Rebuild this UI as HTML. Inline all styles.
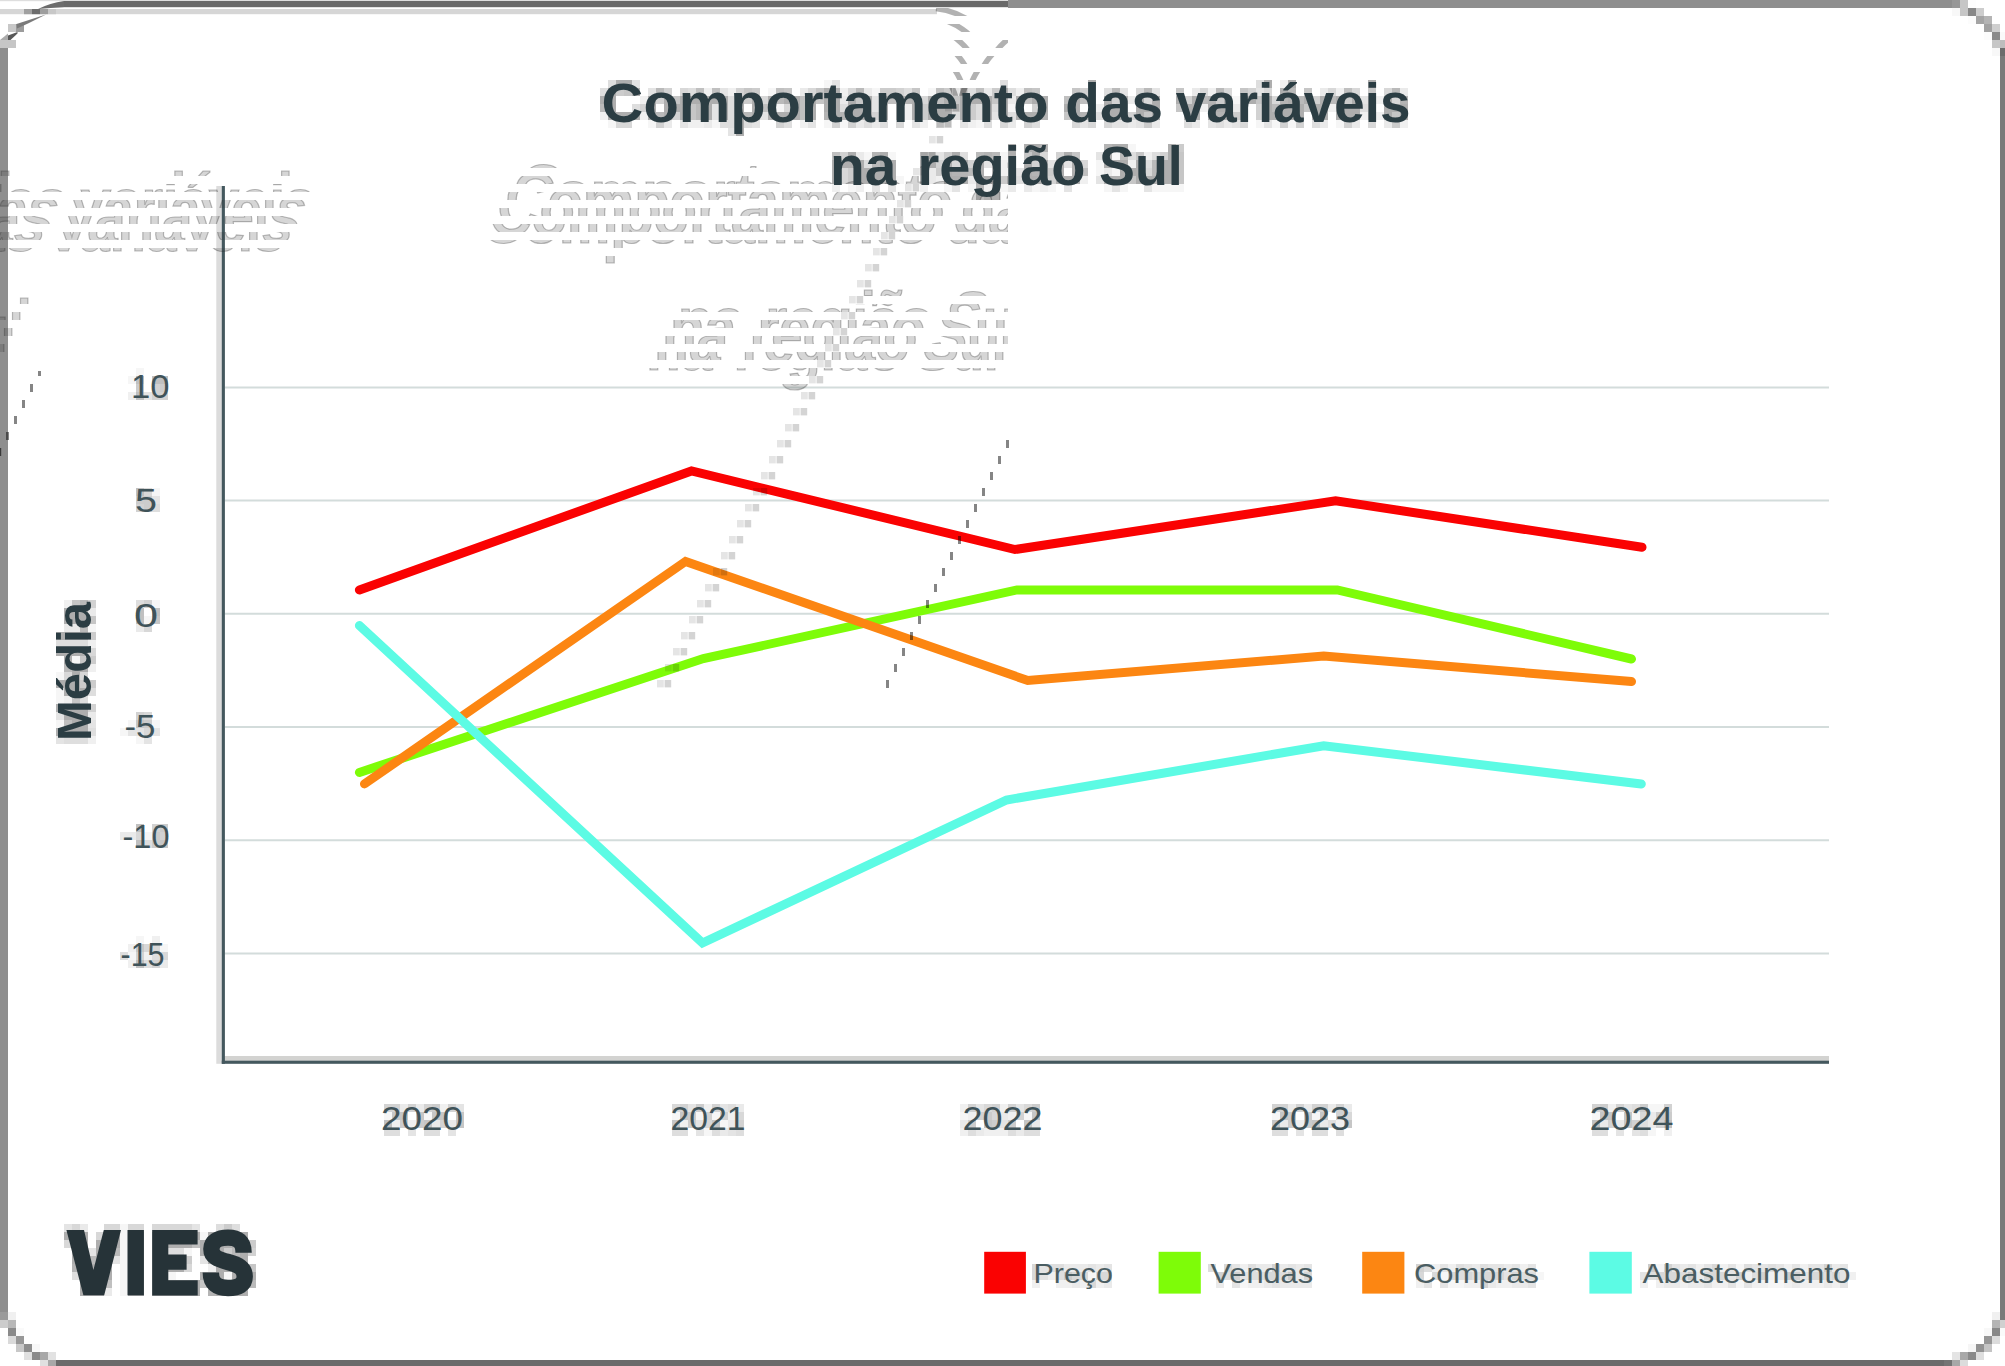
<!DOCTYPE html>
<html lang="pt">
<head>
<meta charset="utf-8">
<title>Comportamento das variáveis na região Sul</title>
<style>
  html, body { margin: 0; padding: 0; background: #ffffff; }
  body { width: 2005px; height: 1366px; overflow: hidden; position: relative;
         font-family: "Liberation Sans", sans-serif; }
  svg { position: absolute; left: 0; top: 0; display: block; }
  text { font-family: "Liberation Sans", sans-serif; }
  .tick { font-size: 33px; fill: #3f5359; }
  .leg  { font-size: 28px; fill: #4a5d62; }
  .ttl  { font-size: 56px; font-weight: bold; }
  .ghost { fill: rgba(50,50,50,0.20); stroke: rgba(40,40,40,0.30); stroke-width: 1.2px; }
</style>
</head>
<body>
<svg width="2005" height="1366" viewBox="0 0 2005 1366">
  <defs>
    <g id="ttlsrc" class="ttl">
      <text x="601.6" y="121.5" textLength="446.9" lengthAdjust="spacingAndGlyphs">Comportamento</text>
      <text x="1065.3" y="121.5" textLength="97.6" lengthAdjust="spacingAndGlyphs">das</text>
      <text x="1175.8" y="121.5" textLength="234.6" lengthAdjust="spacingAndGlyphs">variáveis</text>
      <text x="830" y="184.5" textLength="66.4" lengthAdjust="spacingAndGlyphs">na</text>
      <text x="917.5" y="184.5" textLength="168" lengthAdjust="spacingAndGlyphs">região</text>
      <text x="1099" y="184.5" textLength="83.7" lengthAdjust="spacingAndGlyphs">Sul</text>
    </g>
    <g id="arcsrc" fill="none">
      <path d="M1944 2.5 C1960 4.5 1971 9 1982 18 S2000 38 2004 52"/>
      <path d="M61 2.5 C45 4.5 34 9 23 18 S5 38 1 52"/>
    </g>
    <clipPath id="ce10"><rect x="0" y="160" width="1008" height="8"/></clipPath>
    <clipPath id="ce11"><rect x="0" y="176" width="1008" height="8"/></clipPath>
    <clipPath id="ce12"><rect x="0" y="192" width="1008" height="8"/></clipPath>
    <clipPath id="ce13"><rect x="0" y="208" width="1008" height="8"/></clipPath>
    <clipPath id="ce14"><rect x="0" y="224" width="1008" height="8"/></clipPath>
    <clipPath id="ce15"><rect x="0" y="240" width="1008" height="8"/></clipPath>
    <clipPath id="ce16"><rect x="0" y="256" width="1008" height="8"/></clipPath>
    <clipPath id="ce18"><rect x="0" y="288" width="1008" height="8"/></clipPath>
    <clipPath id="ce19"><rect x="0" y="304" width="1008" height="8"/></clipPath>
    <clipPath id="ce20"><rect x="0" y="320" width="1008" height="8"/></clipPath>
    <clipPath id="ce21"><rect x="0" y="336" width="1008" height="8"/></clipPath>
    <clipPath id="ce22"><rect x="0" y="352" width="1008" height="8"/></clipPath>
    <clipPath id="ce23"><rect x="0" y="368" width="1008" height="8"/></clipPath>
    <clipPath id="ce24"><rect x="0" y="384" width="1008" height="8"/></clipPath>
    <clipPath id="co9"><rect x="0" y="152" width="1008" height="8"/></clipPath>
    <clipPath id="co10"><rect x="0" y="168" width="1008" height="8"/></clipPath>
    <clipPath id="co11"><rect x="0" y="184" width="1008" height="8"/></clipPath>
    <clipPath id="co12"><rect x="0" y="200" width="1008" height="8"/></clipPath>
    <clipPath id="co13"><rect x="0" y="216" width="1008" height="8"/></clipPath>
    <clipPath id="co14"><rect x="0" y="232" width="1008" height="8"/></clipPath>
    <clipPath id="co15"><rect x="0" y="248" width="1008" height="8"/></clipPath>
    <clipPath id="co16"><rect x="0" y="264" width="1008" height="8"/></clipPath>
    <clipPath id="co17"><rect x="0" y="280" width="1008" height="8"/></clipPath>
    <clipPath id="co18"><rect x="0" y="296" width="1008" height="8"/></clipPath>
    <clipPath id="co19"><rect x="0" y="312" width="1008" height="8"/></clipPath>
    <clipPath id="co20"><rect x="0" y="328" width="1008" height="8"/></clipPath>
    <clipPath id="co21"><rect x="0" y="344" width="1008" height="8"/></clipPath>
    <clipPath id="co22"><rect x="0" y="360" width="1008" height="8"/></clipPath>
    <clipPath id="co23"><rect x="0" y="376" width="1008" height="8"/></clipPath>
    <clipPath id="co24"><rect x="0" y="392" width="1008" height="8"/></clipPath>
    <clipPath id="ao0"><rect x="0" y="8" width="1008" height="8"/></clipPath>
    <clipPath id="ao1"><rect x="0" y="24" width="1008" height="8"/></clipPath>
    <clipPath id="ao2"><rect x="0" y="40" width="1008" height="8"/></clipPath>
    <clipPath id="ao3"><rect x="0" y="56" width="1008" height="8"/></clipPath>
    <clipPath id="ao4"><rect x="0" y="72" width="1008" height="8"/></clipPath>
    <clipPath id="ao5"><rect x="0" y="88" width="1008" height="8"/></clipPath>
    <clipPath id="ao6"><rect x="0" y="104" width="1008" height="8"/></clipPath>
    <clipPath id="aw1"><rect x="0" y="24" width="1008" height="8"/></clipPath>
    <clipPath id="aw2"><rect x="0" y="40" width="1008" height="8"/></clipPath>
    <clipPath id="aw3"><rect x="0" y="56" width="1008" height="8"/></clipPath>
    <clipPath id="aw4"><rect x="0" y="72" width="1008" height="8"/></clipPath>
    <clipPath id="aw5"><rect x="0" y="88" width="1008" height="8"/></clipPath>
  </defs>
  <rect x="0" y="0" width="2005" height="1366" fill="#ffffff"/>

  <!-- FRAME -->
  <g id="frame">
    <rect x="1008" y="0" width="944" height="8" fill="#8e8e8e"/>
    <rect x="0" y="0" width="1008" height="1.2" fill="#dedede"/>
    <rect x="64" y="1" width="944" height="6.2" fill="#696969"/>
    <path d="M64 1 V7.2 Q50 8 38 9 Q50 3 64 1 Z" fill="#6c6c6c"/>
    <rect x="0" y="9" width="937" height="5.2" fill="#d6d6d6"/>
    <rect x="24" y="9" width="8" height="5.2" fill="#a0a0a0"/>
    <rect x="32" y="9" width="8" height="5.2" fill="#6c6c6c"/>
    <rect x="40" y="9" width="8" height="5.2" fill="#9e9e9e"/>
    <rect x="48" y="9" width="8" height="5.2" fill="#c8c8c8"/>
    <rect x="0" y="48" width="8" height="1264" fill="#8e8e8e"/>
    <rect x="0" y="40" width="16" height="8" fill="#c6c6c6"/>
    <rect x="8" y="24" width="8" height="8" fill="#c8c8c8"/>
    <rect x="16" y="24" width="8" height="8" fill="#9c9c9c"/>
    <path d="M16.5 24 L46 14.6 L28 23.6 L17 28.5 Z" fill="#7a7a7a"/>
    <path d="M8 40 V35.5 L17.5 32 V33.5 L10.5 40 Z" fill="#585858"/>
    <path d="M0 40 L8 33.5 V40 Z" fill="#ababab"/>
    <rect x="2000" y="56" width="5" height="1264" fill="#7a7a7a"/>
    <rect x="2000" y="48" width="5" height="8" fill="#6c6c6c"/>
    <rect x="56" y="1360" width="1888" height="6" fill="#6b6b6b"/>
    <rect x="1952" y="0" width="8" height="8" fill="#979797"/>
    <rect x="1960" y="0" width="8" height="8" fill="#c6c6c6"/>
    <rect x="1968" y="0" width="8" height="8" fill="#fdfdfd"/>
    <rect x="1952" y="8" width="8" height="8" fill="#f8f8f8"/>
    <rect x="1960" y="8" width="8" height="8" fill="#c6c6c6"/>
    <rect x="1968" y="8" width="8" height="8" fill="#888888"/>
    <rect x="1976" y="8" width="8" height="8" fill="#cdcdcd"/>
    <rect x="1968" y="16" width="8" height="8" fill="#fcfcfc"/>
    <rect x="1976" y="16" width="8" height="8" fill="#a4a4a4"/>
    <rect x="1984" y="16" width="8" height="8" fill="#b4b4b4"/>
    <rect x="1984" y="24" width="8" height="8" fill="#a2a2a2"/>
    <rect x="1992" y="24" width="8" height="8" fill="#cfcfcf"/>
    <rect x="1984" y="32" width="8" height="8" fill="#fcfcfc"/>
    <rect x="1992" y="32" width="8" height="8" fill="#8a8a8a"/>
    <rect x="2000" y="32" width="5" height="8" fill="#fafafa"/>
    <rect x="1992" y="40" width="8" height="8" fill="#c6c6c6"/>
    <rect x="2000" y="40" width="5" height="8" fill="#bdbdbd"/>
    <rect x="1992" y="48" width="8" height="8" fill="#f8f8f8"/>
    <rect x="0" y="1312" width="8" height="8" fill="#9a9a9a"/>
    <rect x="8" y="1312" width="8" height="8" fill="#f0f0f0"/>
    <rect x="0" y="1320" width="8" height="8" fill="#cccccc"/>
    <rect x="8" y="1320" width="8" height="8" fill="#b8b8b8"/>
    <rect x="8" y="1328" width="8" height="8" fill="#8a8a8a"/>
    <rect x="16" y="1328" width="8" height="8" fill="#fafafa"/>
    <rect x="8" y="1336" width="8" height="8" fill="#dadada"/>
    <rect x="16" y="1336" width="8" height="8" fill="#989898"/>
    <rect x="16" y="1344" width="8" height="8" fill="#c8c8c8"/>
    <rect x="24" y="1344" width="8" height="8" fill="#8e8e8e"/>
    <rect x="32" y="1344" width="8" height="8" fill="#f8f8f8"/>
    <rect x="24" y="1352" width="8" height="8" fill="#e0e0e0"/>
    <rect x="32" y="1352" width="8" height="8" fill="#8a8a8a"/>
    <rect x="40" y="1352" width="8" height="8" fill="#a8a8a8"/>
    <rect x="48" y="1352" width="8" height="8" fill="#e2e2e2"/>
    <rect x="40" y="1360" width="8" height="6" fill="#e0e0e0"/>
    <rect x="48" y="1360" width="8" height="6" fill="#a8a8a8"/>
    <rect x="1992" y="1312" width="8" height="8" fill="#f0f0f0"/>
    <rect x="1992" y="1320" width="8" height="8" fill="#b4b4b4"/>
    <rect x="2000" y="1320" width="5" height="8" fill="#d0d0d0"/>
    <rect x="1984" y="1328" width="8" height="8" fill="#f8f8f8"/>
    <rect x="1992" y="1328" width="8" height="8" fill="#888888"/>
    <rect x="2000" y="1328" width="5" height="8" fill="#fafafa"/>
    <rect x="1984" y="1336" width="8" height="8" fill="#969696"/>
    <rect x="1992" y="1336" width="8" height="8" fill="#dcdcdc"/>
    <rect x="1968" y="1344" width="8" height="8" fill="#f6f6f6"/>
    <rect x="1976" y="1344" width="8" height="8" fill="#929292"/>
    <rect x="1984" y="1344" width="8" height="8" fill="#c4c4c4"/>
    <rect x="1952" y="1352" width="8" height="8" fill="#e4e4e4"/>
    <rect x="1960" y="1352" width="8" height="8" fill="#a8a8a8"/>
    <rect x="1968" y="1352" width="8" height="8" fill="#8a8a8a"/>
    <rect x="1976" y="1352" width="8" height="8" fill="#dedede"/>
    <rect x="1944" y="1360" width="8" height="6" fill="#747474"/>
    <rect x="1952" y="1360" width="8" height="6" fill="#a8a8a8"/>
    <rect x="1960" y="1360" width="8" height="6" fill="#dcdcdc"/>
  </g>
  <!-- soft 8x8 compression halo behind the lettering -->
  <g id="halo">
    <path fill="#aeaeae" d="M616 80h8v8h-8zM624 80h8v8h-8zM1088 80h8v8h-8zM1264 80h8v8h-8zM1288 80h8v8h-8zM1368 80h8v8h-8zM608 88h8v8h-8zM632 88h8v8h-8zM824 88h8v8h-8zM832 88h8v8h-8zM1000 88h8v8h-8zM1088 88h8v8h-8zM1280 88h8v8h-8zM600 96h8v8h-8zM608 96h8v8h-8zM648 96h8v8h-8zM664 96h8v8h-8zM680 96h8v8h-8zM688 96h8v8h-8zM696 96h8v8h-8zM704 96h8v8h-8zM712 96h8v8h-8zM720 96h8v8h-8zM736 96h8v8h-8zM752 96h8v8h-8zM768 96h8v8h-8zM784 96h8v8h-8zM792 96h8v8h-8zM808 96h8v8h-8zM824 96h8v8h-8zM832 96h8v8h-8zM848 96h8v8h-8zM864 96h8v8h-8zM880 96h8v8h-8zM896 96h8v8h-8zM912 96h8v8h-8zM928 96h8v8h-8zM944 96h8v8h-8zM960 96h8v8h-8zM968 96h8v8h-8zM976 96h8v8h-8zM984 96h8v8h-8zM1000 96h8v8h-8zM1016 96h8v8h-8zM1032 96h8v8h-8zM1040 96h8v8h-8zM1072 96h8v8h-8zM1088 96h8v8h-8zM1104 96h8v8h-8zM1120 96h8v8h-8zM1136 96h8v8h-8zM1152 96h8v8h-8zM1176 96h8v8h-8zM1192 96h8v8h-8zM1224 96h8v8h-8zM1240 96h8v8h-8zM1248 96h8v8h-8zM1264 96h8v8h-8zM1288 96h8v8h-8zM1304 96h8v8h-8zM1320 96h8v8h-8zM1336 96h8v8h-8zM1352 96h8v8h-8zM1368 96h8v8h-8zM1384 96h8v8h-8zM608 104h8v8h-8zM648 104h8v8h-8zM664 104h8v8h-8zM672 104h8v8h-8zM680 104h8v8h-8zM704 104h8v8h-8zM720 104h8v8h-8zM736 104h8v8h-8zM752 104h8v8h-8zM768 104h8v8h-8zM792 104h8v8h-8zM808 104h8v8h-8zM824 104h8v8h-8zM832 104h8v8h-8zM848 104h8v8h-8zM856 104h8v8h-8zM864 104h8v8h-8zM880 104h8v8h-8zM896 104h8v8h-8zM912 104h8v8h-8zM928 104h8v8h-8zM936 104h8v8h-8zM944 104h8v8h-8zM960 104h8v8h-8zM984 104h8v8h-8zM1000 104h8v8h-8zM1016 104h8v8h-8zM1040 104h8v8h-8zM1064 104h8v8h-8zM1072 104h8v8h-8zM1088 104h8v8h-8zM1104 104h8v8h-8zM1112 104h8v8h-8zM1120 104h8v8h-8zM1136 104h8v8h-8zM1144 104h8v8h-8zM1152 104h8v8h-8zM1184 104h8v8h-8zM1192 104h8v8h-8zM1208 104h8v8h-8zM1216 104h8v8h-8zM1224 104h8v8h-8zM1240 104h8v8h-8zM1264 104h8v8h-8zM1280 104h8v8h-8zM1288 104h8v8h-8zM1296 104h8v8h-8zM1312 104h8v8h-8zM1320 104h8v8h-8zM1336 104h8v8h-8zM1344 104h8v8h-8zM1352 104h8v8h-8zM1368 104h8v8h-8zM1384 104h8v8h-8zM1392 104h8v8h-8zM1400 104h8v8h-8zM608 112h8v8h-8zM616 112h8v8h-8zM624 112h8v8h-8zM632 112h8v8h-8zM648 112h8v8h-8zM664 112h8v8h-8zM680 112h8v8h-8zM704 112h8v8h-8zM720 112h8v8h-8zM736 112h8v8h-8zM752 112h8v8h-8zM768 112h8v8h-8zM776 112h8v8h-8zM784 112h8v8h-8zM792 112h8v8h-8zM808 112h8v8h-8zM832 112h8v8h-8zM848 112h8v8h-8zM856 112h8v8h-8zM864 112h8v8h-8zM880 112h8v8h-8zM896 112h8v8h-8zM912 112h8v8h-8zM928 112h8v8h-8zM936 112h8v8h-8zM944 112h8v8h-8zM960 112h8v8h-8zM984 112h8v8h-8zM1000 112h8v8h-8zM1016 112h8v8h-8zM1024 112h8v8h-8zM1032 112h8v8h-8zM1072 112h8v8h-8zM1088 112h8v8h-8zM1104 112h8v8h-8zM1112 112h8v8h-8zM1120 112h8v8h-8zM1136 112h8v8h-8zM1152 112h8v8h-8zM1184 112h8v8h-8zM1192 112h8v8h-8zM1208 112h8v8h-8zM1224 112h8v8h-8zM1240 112h8v8h-8zM1264 112h8v8h-8zM1272 112h8v8h-8zM1280 112h8v8h-8zM1288 112h8v8h-8zM1296 112h8v8h-8zM1312 112h8v8h-8zM1320 112h8v8h-8zM1336 112h8v8h-8zM1344 112h8v8h-8zM1352 112h8v8h-8zM1368 112h8v8h-8zM1384 112h8v8h-8zM1400 112h8v8h-8zM736 120h8v8h-8zM736 128h8v8h-8zM1008 144h8v8h-8zM1024 144h8v8h-8zM1032 144h8v8h-8zM1112 144h8v8h-8zM1120 144h8v8h-8zM1168 144h8v8h-8zM848 152h8v8h-8zM880 152h8v8h-8zM952 152h8v8h-8zM1008 152h8v8h-8zM1032 152h8v8h-8zM1064 152h8v8h-8zM1104 152h8v8h-8zM1168 152h8v8h-8zM832 160h8v8h-8zM840 160h8v8h-8zM848 160h8v8h-8zM856 160h8v8h-8zM880 160h8v8h-8zM888 160h8v8h-8zM920 160h8v8h-8zM928 160h8v8h-8zM944 160h8v8h-8zM960 160h8v8h-8zM976 160h8v8h-8zM992 160h8v8h-8zM1008 160h8v8h-8zM1024 160h8v8h-8zM1040 160h8v8h-8zM1056 160h8v8h-8zM1072 160h8v8h-8zM1104 160h8v8h-8zM1112 160h8v8h-8zM1120 160h8v8h-8zM1136 160h8v8h-8zM1160 160h8v8h-8zM1168 160h8v8h-8zM832 168h8v8h-8zM856 168h8v8h-8zM864 168h8v8h-8zM872 168h8v8h-8zM880 168h8v8h-8zM888 168h8v8h-8zM920 168h8v8h-8zM944 168h8v8h-8zM976 168h8v8h-8zM992 168h8v8h-8zM1008 168h8v8h-8zM1024 168h8v8h-8zM1040 168h8v8h-8zM1056 168h8v8h-8zM1072 168h8v8h-8zM1120 168h8v8h-8zM1128 168h8v8h-8zM1136 168h8v8h-8zM1160 168h8v8h-8zM1168 168h8v8h-8zM832 176h8v8h-8zM856 176h8v8h-8zM864 176h8v8h-8zM872 176h8v8h-8zM880 176h8v8h-8zM888 176h8v8h-8zM920 176h8v8h-8zM944 176h8v8h-8zM952 176h8v8h-8zM960 176h8v8h-8zM976 176h8v8h-8zM984 176h8v8h-8zM992 176h8v8h-8zM1008 176h8v8h-8zM1024 176h8v8h-8zM1032 176h8v8h-8zM1040 176h8v8h-8zM1056 176h8v8h-8zM1064 176h8v8h-8zM1072 176h8v8h-8zM1104 176h8v8h-8zM1112 176h8v8h-8zM1120 176h8v8h-8zM1136 176h8v8h-8zM1144 176h8v8h-8zM1152 176h8v8h-8zM1160 176h8v8h-8zM1168 176h8v8h-8zM992 184h8v8h-8zM984 192h8v8h-8zM64 608h8v8h-8zM72 608h8v8h-8zM80 608h8v8h-8zM64 616h8v8h-8zM72 616h8v8h-8zM80 616h8v8h-8zM56 632h8v8h-8zM64 632h8v8h-8zM72 632h8v8h-8zM80 632h8v8h-8zM56 648h8v8h-8zM64 648h8v8h-8zM72 648h8v8h-8zM80 648h8v8h-8zM64 656h8v8h-8zM72 664h8v8h-8zM80 664h8v8h-8zM72 672h8v8h-8zM56 680h8v8h-8zM64 680h8v8h-8zM72 680h8v8h-8zM64 688h8v8h-8zM72 688h8v8h-8zM80 688h8v8h-8zM56 704h8v8h-8zM64 704h8v8h-8zM72 704h8v8h-8zM80 704h8v8h-8zM64 712h8v8h-8zM72 712h8v8h-8zM80 712h8v8h-8zM72 720h8v8h-8zM80 720h8v8h-8zM56 728h8v8h-8zM64 728h8v8h-8zM72 728h8v8h-8zM80 728h8v8h-8zM64 1232h8v8h-8zM72 1232h8v8h-8zM80 1232h8v8h-8zM104 1232h8v8h-8zM112 1232h8v8h-8zM128 1232h8v8h-8zM136 1232h8v8h-8zM152 1232h8v8h-8zM160 1232h8v8h-8zM168 1232h8v8h-8zM176 1232h8v8h-8zM184 1232h8v8h-8zM192 1232h8v8h-8zM208 1232h8v8h-8zM216 1232h8v8h-8zM224 1232h8v8h-8zM232 1232h8v8h-8zM240 1232h8v8h-8zM72 1240h8v8h-8zM80 1240h8v8h-8zM96 1240h8v8h-8zM104 1240h8v8h-8zM112 1240h8v8h-8zM128 1240h8v8h-8zM136 1240h8v8h-8zM152 1240h8v8h-8zM160 1240h8v8h-8zM168 1240h8v8h-8zM176 1240h8v8h-8zM184 1240h8v8h-8zM200 1240h8v8h-8zM208 1240h8v8h-8zM216 1240h8v8h-8zM224 1240h8v8h-8zM232 1240h8v8h-8zM240 1240h8v8h-8zM72 1248h8v8h-8zM80 1248h8v8h-8zM96 1248h8v8h-8zM104 1248h8v8h-8zM128 1248h8v8h-8zM136 1248h8v8h-8zM152 1248h8v8h-8zM160 1248h8v8h-8zM200 1248h8v8h-8zM208 1248h8v8h-8zM216 1248h8v8h-8zM240 1248h8v8h-8zM72 1256h8v8h-8zM80 1256h8v8h-8zM96 1256h8v8h-8zM104 1256h8v8h-8zM128 1256h8v8h-8zM136 1256h8v8h-8zM152 1256h8v8h-8zM160 1256h8v8h-8zM168 1256h8v8h-8zM176 1256h8v8h-8zM208 1256h8v8h-8zM216 1256h8v8h-8zM224 1256h8v8h-8zM232 1256h8v8h-8zM240 1256h8v8h-8zM80 1264h8v8h-8zM88 1264h8v8h-8zM96 1264h8v8h-8zM104 1264h8v8h-8zM128 1264h8v8h-8zM136 1264h8v8h-8zM152 1264h8v8h-8zM160 1264h8v8h-8zM168 1264h8v8h-8zM176 1264h8v8h-8zM216 1264h8v8h-8zM224 1264h8v8h-8zM232 1264h8v8h-8zM240 1264h8v8h-8zM80 1272h8v8h-8zM88 1272h8v8h-8zM96 1272h8v8h-8zM104 1272h8v8h-8zM128 1272h8v8h-8zM136 1272h8v8h-8zM152 1272h8v8h-8zM160 1272h8v8h-8zM200 1272h8v8h-8zM208 1272h8v8h-8zM216 1272h8v8h-8zM232 1272h8v8h-8zM240 1272h8v8h-8zM248 1272h8v8h-8zM80 1280h8v8h-8zM88 1280h8v8h-8zM96 1280h8v8h-8zM128 1280h8v8h-8zM136 1280h8v8h-8zM152 1280h8v8h-8zM160 1280h8v8h-8zM168 1280h8v8h-8zM176 1280h8v8h-8zM184 1280h8v8h-8zM192 1280h8v8h-8zM208 1280h8v8h-8zM216 1280h8v8h-8zM224 1280h8v8h-8zM232 1280h8v8h-8zM240 1280h8v8h-8zM80 1288h8v8h-8zM88 1288h8v8h-8zM96 1288h8v8h-8zM128 1288h8v8h-8zM136 1288h8v8h-8zM152 1288h8v8h-8zM160 1288h8v8h-8zM168 1288h8v8h-8zM176 1288h8v8h-8zM184 1288h8v8h-8zM192 1288h8v8h-8zM216 1288h8v8h-8zM224 1288h8v8h-8zM232 1288h8v8h-8zM240 1288h8v8h-8z"/>
    <path fill="#b4b4b4" d="M904 96h8v8h-8zM1208 96h8v8h-8zM1280 96h8v8h-8zM1400 96h8v8h-8zM824 112h8v8h-8zM840 112h8v8h-8zM1040 112h8v8h-8zM1080 112h8v8h-8zM1216 112h8v8h-8zM1040 144h8v8h-8zM1104 144h8v8h-8zM872 152h8v8h-8zM984 152h8v8h-8zM952 168h8v8h-8zM960 168h8v8h-8zM1032 168h8v8h-8zM976 184h8v8h-8zM72 1264h8v8h-8zM208 1288h8v8h-8z"/>
    <path fill="#bababa" d="M656 88h8v8h-8zM856 88h8v8h-8zM1112 88h8v8h-8zM1144 88h8v8h-8zM1216 88h8v8h-8zM1288 88h8v8h-8zM1392 88h8v8h-8zM776 96h8v8h-8zM1200 96h8v8h-8zM1296 96h8v8h-8zM1328 96h8v8h-8zM600 104h8v8h-8zM696 104h8v8h-8zM1272 104h8v8h-8zM656 112h8v8h-8zM696 112h8v8h-8zM744 112h8v8h-8zM920 152h8v8h-8zM976 152h8v8h-8zM992 152h8v8h-8zM1120 152h8v8h-8zM872 160h8v8h-8zM1152 160h8v8h-8zM968 168h8v8h-8zM1152 168h8v8h-8zM976 192h8v8h-8zM80 600h8v8h-8zM80 624h8v8h-8zM64 664h8v8h-8zM112 1248h8v8h-8zM232 1248h8v8h-8zM88 1256h8v8h-8zM248 1280h8v8h-8z"/>
    <path fill="#c0c0c0" d="M696 88h8v8h-8zM712 88h8v8h-8zM776 88h8v8h-8zM936 88h8v8h-8zM976 88h8v8h-8zM1024 88h8v8h-8zM1344 88h8v8h-8zM800 96h8v8h-8zM888 96h8v8h-8zM936 96h8v8h-8zM1024 96h8v8h-8zM1064 96h8v8h-8zM1080 96h8v8h-8zM760 104h8v8h-8zM800 104h8v8h-8zM800 112h8v8h-8zM832 152h8v8h-8zM1080 168h8v8h-8zM136 376h8v8h-8zM152 376h8v8h-8zM160 376h8v8h-8zM136 392h8v8h-8zM136 488h8v8h-8zM136 608h8v8h-8zM152 608h8v8h-8zM136 616h8v8h-8zM64 720h8v8h-8zM136 824h8v8h-8zM136 840h8v8h-8zM136 960h8v8h-8zM384 1120h8v8h-8zM1592 1120h8v8h-8zM1664 1120h8v8h-8zM192 1240h8v8h-8zM104 1280h8v8h-8z"/>
    <path fill="#c6c6c6" d="M624 88h8v8h-8zM744 88h8v8h-8zM784 88h8v8h-8zM816 88h8v8h-8zM912 88h8v8h-8zM1032 88h8v8h-8zM1072 88h8v8h-8zM1176 88h8v8h-8zM1240 88h8v8h-8zM1304 88h8v8h-8zM1368 88h8v8h-8zM672 96h8v8h-8zM816 96h8v8h-8zM856 96h8v8h-8zM952 96h8v8h-8zM992 96h8v8h-8zM1256 96h8v8h-8zM688 104h8v8h-8zM1176 104h8v8h-8zM1304 104h8v8h-8zM688 112h8v8h-8zM1064 112h8v8h-8zM1144 112h8v8h-8zM1392 112h8v8h-8zM928 152h8v8h-8zM1024 152h8v8h-8zM1072 152h8v8h-8zM1136 152h8v8h-8zM1176 152h8v8h-8zM1176 160h8v8h-8zM1176 168h8v8h-8zM1128 176h8v8h-8zM1176 176h8v8h-8zM72 600h8v8h-8zM88 616h8v8h-8zM152 616h8v8h-8zM80 656h8v8h-8zM72 696h8v8h-8zM136 720h8v8h-8zM160 840h8v8h-8zM136 944h8v8h-8zM392 1112h8v8h-8zM400 1112h8v8h-8zM416 1112h8v8h-8zM432 1112h8v8h-8zM440 1112h8v8h-8zM456 1112h8v8h-8zM680 1112h8v8h-8zM1032 1112h8v8h-8zM1280 1112h8v8h-8zM1320 1112h8v8h-8zM1600 1112h8v8h-8zM1608 1112h8v8h-8zM1624 1112h8v8h-8zM424 1120h8v8h-8zM456 1120h8v8h-8zM672 1120h8v8h-8zM712 1120h8v8h-8zM984 1120h8v8h-8zM1024 1120h8v8h-8zM1272 1120h8v8h-8zM1312 1120h8v8h-8zM1344 1120h8v8h-8zM1624 1120h8v8h-8zM248 1264h8v8h-8zM200 1280h8v8h-8z"/>
    <path fill="#cccccc" d="M616 88h8v8h-8zM752 88h8v8h-8zM880 88h8v8h-8zM888 88h8v8h-8zM944 88h8v8h-8zM992 88h8v8h-8zM744 96h8v8h-8zM1216 96h8v8h-8zM1344 96h8v8h-8zM920 104h8v8h-8zM952 104h8v8h-8zM968 104h8v8h-8zM920 112h8v8h-8zM968 112h8v8h-8zM1232 112h8v8h-8zM1144 120h8v8h-8zM1392 120h8v8h-8zM1176 144h8v8h-8zM944 152h8v8h-8zM848 168h8v8h-8zM936 168h8v8h-8zM1048 168h8v8h-8zM848 176h8v8h-8zM992 192h8v8h-8zM136 384h8v8h-8zM160 384h8v8h-8zM136 496h8v8h-8zM144 496h8v8h-8zM144 504h8v8h-8zM88 632h8v8h-8zM88 656h8v8h-8zM80 680h8v8h-8zM88 680h8v8h-8zM144 720h8v8h-8zM160 824h8v8h-8zM152 832h8v8h-8zM152 840h8v8h-8zM432 1104h8v8h-8zM696 1104h8v8h-8zM1032 1104h8v8h-8zM1600 1104h8v8h-8zM1640 1104h8v8h-8zM688 1112h8v8h-8zM984 1112h8v8h-8zM1288 1112h8v8h-8zM1304 1112h8v8h-8zM1656 1112h8v8h-8zM1664 1112h8v8h-8zM400 1120h8v8h-8zM416 1120h8v8h-8zM688 1120h8v8h-8zM968 1120h8v8h-8zM992 1120h8v8h-8zM1008 1120h8v8h-8zM1288 1120h8v8h-8zM1304 1120h8v8h-8zM224 1224h8v8h-8zM248 1240h8v8h-8zM224 1248h8v8h-8zM184 1256h8v8h-8zM1648 1264h8v8h-8zM1064 1272h8v8h-8zM1288 1272h8v8h-8zM1688 1272h8v8h-8zM1784 1272h8v8h-8z"/>
    <path fill="#d2d2d2" d="M664 88h8v8h-8zM736 88h8v8h-8zM896 88h8v8h-8zM960 88h8v8h-8zM1080 88h8v8h-8zM1248 88h8v8h-8zM656 96h8v8h-8zM1112 96h8v8h-8zM1184 96h8v8h-8zM1312 96h8v8h-8zM640 104h8v8h-8zM1032 104h8v8h-8zM1256 104h8v8h-8zM672 112h8v8h-8zM872 112h8v8h-8zM1128 112h8v8h-8zM1256 112h8v8h-8zM656 120h8v8h-8zM776 120h8v8h-8zM832 120h8v8h-8zM848 120h8v8h-8zM936 120h8v8h-8zM1024 120h8v8h-8zM1280 120h8v8h-8zM1296 120h8v8h-8zM1344 120h8v8h-8zM840 152h8v8h-8zM1056 152h8v8h-8zM1160 152h8v8h-8zM936 160h8v8h-8zM968 160h8v8h-8zM1032 160h8v8h-8zM1048 176h8v8h-8zM152 384h8v8h-8zM152 392h8v8h-8zM160 392h8v8h-8zM136 504h8v8h-8zM88 600h8v8h-8zM144 600h8v8h-8zM88 704h8v8h-8zM136 712h8v8h-8zM152 824h8v8h-8zM160 832h8v8h-8zM136 952h8v8h-8zM152 960h8v8h-8zM384 1104h8v8h-8zM392 1104h8v8h-8zM408 1104h8v8h-8zM424 1104h8v8h-8zM448 1104h8v8h-8zM680 1104h8v8h-8zM712 1104h8v8h-8zM968 1104h8v8h-8zM992 1104h8v8h-8zM1008 1104h8v8h-8zM1272 1104h8v8h-8zM1280 1104h8v8h-8zM1296 1104h8v8h-8zM1312 1104h8v8h-8zM1320 1104h8v8h-8zM1336 1104h8v8h-8zM1592 1104h8v8h-8zM1616 1104h8v8h-8zM1664 1104h8v8h-8zM704 1112h8v8h-8zM720 1112h8v8h-8zM976 1112h8v8h-8zM1016 1112h8v8h-8zM1336 1112h8v8h-8zM440 1120h8v8h-8zM736 1120h8v8h-8zM1608 1120h8v8h-8zM1632 1120h8v8h-8zM1656 1120h8v8h-8zM248 1248h8v8h-8zM1272 1264h8v8h-8zM1416 1264h8v8h-8zM1664 1264h8v8h-8zM1824 1264h8v8h-8zM1216 1272h8v8h-8zM1232 1272h8v8h-8zM1736 1272h8v8h-8zM1760 1272h8v8h-8zM1792 1272h8v8h-8zM1480 1280h8v8h-8z"/>
    <path fill="#d8d8d8" d="M680 88h8v8h-8zM808 88h8v8h-8zM848 88h8v8h-8zM1136 88h8v8h-8zM1200 88h8v8h-8zM1224 88h8v8h-8zM1264 88h8v8h-8zM1328 88h8v8h-8zM1352 88h8v8h-8zM1384 88h8v8h-8zM760 96h8v8h-8zM920 96h8v8h-8zM1144 96h8v8h-8zM1272 96h8v8h-8zM1392 96h8v8h-8zM784 104h8v8h-8zM616 120h8v8h-8zM624 120h8v8h-8zM896 120h8v8h-8zM1000 120h8v8h-8zM1072 120h8v8h-8zM1088 120h8v8h-8zM1104 120h8v8h-8zM1240 120h8v8h-8zM1368 120h8v8h-8zM1040 152h8v8h-8zM952 160h8v8h-8zM1080 160h8v8h-8zM840 168h8v8h-8zM1144 168h8v8h-8zM840 176h8v8h-8zM144 488h8v8h-8zM144 624h8v8h-8zM88 648h8v8h-8zM64 672h8v8h-8zM80 672h8v8h-8zM144 712h8v8h-8zM144 728h8v8h-8zM136 832h8v8h-8zM144 944h8v8h-8zM152 944h8v8h-8zM160 952h8v8h-8zM672 1104h8v8h-8zM984 1104h8v8h-8zM1024 1104h8v8h-8zM736 1112h8v8h-8zM992 1112h8v8h-8zM1344 1112h8v8h-8zM1640 1112h8v8h-8zM704 1120h8v8h-8zM72 1224h8v8h-8zM104 1224h8v8h-8zM112 1224h8v8h-8zM128 1224h8v8h-8zM136 1224h8v8h-8zM152 1224h8v8h-8zM160 1224h8v8h-8zM168 1224h8v8h-8zM176 1224h8v8h-8zM184 1224h8v8h-8zM96 1232h8v8h-8zM64 1240h8v8h-8zM184 1264h8v8h-8zM1032 1264h8v8h-8zM1224 1264h8v8h-8zM1712 1264h8v8h-8zM1032 1272h8v8h-8zM1072 1272h8v8h-8zM1080 1272h8v8h-8zM1096 1272h8v8h-8zM1104 1272h8v8h-8zM1264 1272h8v8h-8zM1272 1272h8v8h-8zM1304 1272h8v8h-8zM1416 1272h8v8h-8zM1432 1272h8v8h-8zM1448 1272h8v8h-8zM1464 1272h8v8h-8zM1480 1272h8v8h-8zM1488 1272h8v8h-8zM1496 1272h8v8h-8zM1512 1272h8v8h-8zM1656 1272h8v8h-8zM1664 1272h8v8h-8zM1672 1272h8v8h-8zM1704 1272h8v8h-8zM1712 1272h8v8h-8zM1720 1272h8v8h-8zM1808 1272h8v8h-8zM1816 1272h8v8h-8zM1832 1272h8v8h-8zM1088 1280h8v8h-8z"/>
    <path fill="#dedede" d="M608 80h8v8h-8zM1000 80h8v8h-8zM1256 80h8v8h-8zM600 88h8v8h-8zM688 88h8v8h-8zM904 88h8v8h-8zM968 88h8v8h-8zM1008 88h8v8h-8zM1104 88h8v8h-8zM728 96h8v8h-8zM632 104h8v8h-8zM728 104h8v8h-8zM840 104h8v8h-8zM976 104h8v8h-8zM992 104h8v8h-8zM1360 104h8v8h-8zM728 112h8v8h-8zM952 112h8v8h-8zM976 112h8v8h-8zM1008 112h8v8h-8zM1096 112h8v8h-8zM720 120h8v8h-8zM728 120h8v8h-8zM744 120h8v8h-8zM784 120h8v8h-8zM864 120h8v8h-8zM880 120h8v8h-8zM984 120h8v8h-8zM1032 120h8v8h-8zM1184 120h8v8h-8zM1216 120h8v8h-8zM1312 120h8v8h-8zM960 152h8v8h-8zM1128 152h8v8h-8zM1152 152h8v8h-8zM864 160h8v8h-8zM1144 160h8v8h-8zM1016 176h8v8h-8zM152 504h8v8h-8zM136 600h8v8h-8zM56 640h8v8h-8zM64 640h8v8h-8zM72 640h8v8h-8zM80 640h8v8h-8zM88 688h8v8h-8zM80 696h8v8h-8zM88 728h8v8h-8zM64 736h8v8h-8zM72 736h8v8h-8zM80 736h8v8h-8zM144 840h8v8h-8zM120 952h8v8h-8zM152 952h8v8h-8zM144 960h8v8h-8zM728 1104h8v8h-8zM1632 1104h8v8h-8zM1328 1120h8v8h-8zM1640 1120h8v8h-8zM384 1128h8v8h-8zM392 1128h8v8h-8zM424 1128h8v8h-8zM432 1128h8v8h-8zM672 1128h8v8h-8zM680 1128h8v8h-8zM712 1128h8v8h-8zM736 1128h8v8h-8zM968 1128h8v8h-8zM1008 1128h8v8h-8zM1024 1128h8v8h-8zM1032 1128h8v8h-8zM1272 1128h8v8h-8zM1280 1128h8v8h-8zM1312 1128h8v8h-8zM1320 1128h8v8h-8zM1336 1128h8v8h-8zM1592 1128h8v8h-8zM1600 1128h8v8h-8zM1640 1128h8v8h-8zM216 1224h8v8h-8zM232 1224h8v8h-8zM168 1248h8v8h-8zM176 1248h8v8h-8zM1048 1264h8v8h-8zM1056 1264h8v8h-8zM1208 1264h8v8h-8zM1248 1264h8v8h-8zM1424 1264h8v8h-8zM1456 1264h8v8h-8zM1480 1264h8v8h-8zM1744 1264h8v8h-8zM1768 1264h8v8h-8zM72 1272h8v8h-8zM1056 1272h8v8h-8zM1224 1272h8v8h-8zM1248 1272h8v8h-8zM1256 1272h8v8h-8zM1280 1272h8v8h-8zM1456 1272h8v8h-8zM1472 1272h8v8h-8zM1520 1272h8v8h-8zM1528 1272h8v8h-8zM1648 1272h8v8h-8zM1680 1272h8v8h-8zM1752 1272h8v8h-8zM1824 1272h8v8h-8z"/>
    <path fill="#e4e4e4" d="M632 80h8v8h-8zM832 80h8v8h-8zM648 88h8v8h-8zM720 88h8v8h-8zM1120 88h8v8h-8zM1152 88h8v8h-8zM1256 88h8v8h-8zM872 96h8v8h-8zM1360 96h8v8h-8zM712 104h8v8h-8zM872 104h8v8h-8zM712 112h8v8h-8zM760 112h8v8h-8zM992 112h8v8h-8zM680 120h8v8h-8zM752 120h8v8h-8zM808 120h8v8h-8zM912 120h8v8h-8zM944 120h8v8h-8zM960 120h8v8h-8zM1080 120h8v8h-8zM1112 120h8v8h-8zM1120 120h8v8h-8zM1136 120h8v8h-8zM1208 120h8v8h-8zM1232 120h8v8h-8zM1264 120h8v8h-8zM728 128h8v8h-8zM936 152h8v8h-8zM1096 152h8v8h-8zM984 160h8v8h-8zM1048 160h8v8h-8zM1064 160h8v8h-8zM1016 168h8v8h-8zM1096 176h8v8h-8zM872 184h8v8h-8zM888 184h8v8h-8zM952 184h8v8h-8zM1064 184h8v8h-8zM1112 184h8v8h-8zM1144 184h8v8h-8zM144 392h8v8h-8zM152 496h8v8h-8zM56 712h8v8h-8zM88 720h8v8h-8zM128 728h8v8h-8zM136 728h8v8h-8zM152 728h8v8h-8zM56 736h8v8h-8zM144 736h8v8h-8zM456 1104h8v8h-8zM688 1104h8v8h-8zM720 1104h8v8h-8zM976 1104h8v8h-8zM1016 1104h8v8h-8zM1624 1104h8v8h-8zM696 1120h8v8h-8zM1000 1120h8v8h-8zM408 1128h8v8h-8zM448 1128h8v8h-8zM696 1128h8v8h-8zM728 1128h8v8h-8zM1296 1128h8v8h-8zM1616 1128h8v8h-8zM1632 1128h8v8h-8zM64 1224h8v8h-8zM192 1224h8v8h-8zM88 1248h8v8h-8zM112 1256h8v8h-8zM200 1256h8v8h-8zM1040 1264h8v8h-8zM1088 1264h8v8h-8zM1104 1264h8v8h-8zM1232 1264h8v8h-8zM1288 1264h8v8h-8zM1304 1264h8v8h-8zM1440 1264h8v8h-8zM1464 1264h8v8h-8zM1488 1264h8v8h-8zM1496 1264h8v8h-8zM1512 1264h8v8h-8zM1528 1264h8v8h-8zM1672 1264h8v8h-8zM1688 1264h8v8h-8zM1704 1264h8v8h-8zM1728 1264h8v8h-8zM1752 1264h8v8h-8zM1760 1264h8v8h-8zM1776 1264h8v8h-8zM1792 1264h8v8h-8zM1808 1264h8v8h-8zM1816 1264h8v8h-8zM1840 1264h8v8h-8zM1040 1272h8v8h-8zM1240 1272h8v8h-8zM1504 1272h8v8h-8zM1640 1272h8v8h-8zM1728 1272h8v8h-8zM1800 1272h8v8h-8zM1840 1272h8v8h-8zM1232 1280h8v8h-8zM1272 1280h8v8h-8zM1424 1280h8v8h-8zM1440 1280h8v8h-8zM1528 1280h8v8h-8zM1704 1280h8v8h-8zM1728 1280h8v8h-8zM1744 1280h8v8h-8zM1840 1280h8v8h-8z"/>
    <path fill="#eaeaea" d="M800 88h8v8h-8zM864 88h8v8h-8zM984 88h8v8h-8zM1192 88h8v8h-8zM1320 88h8v8h-8zM1400 88h8v8h-8zM840 96h8v8h-8zM1008 96h8v8h-8zM1128 96h8v8h-8zM1232 104h8v8h-8zM664 120h8v8h-8zM704 120h8v8h-8zM856 120h8v8h-8zM872 120h8v8h-8zM1008 120h8v8h-8zM1128 120h8v8h-8zM1152 120h8v8h-8zM1192 120h8v8h-8zM1224 120h8v8h-8zM1320 120h8v8h-8zM1352 120h8v8h-8zM1384 120h8v8h-8zM856 152h8v8h-8zM928 168h8v8h-8zM1104 168h8v8h-8zM928 176h8v8h-8zM968 176h8v8h-8zM1008 184h8v8h-8zM1024 184h8v8h-8zM88 608h8v8h-8zM64 624h8v8h-8zM72 624h8v8h-8zM136 624h8v8h-8zM88 712h8v8h-8zM120 832h8v8h-8zM128 832h8v8h-8zM160 960h8v8h-8zM400 1104h8v8h-8zM416 1104h8v8h-8zM736 1104h8v8h-8zM1288 1104h8v8h-8zM1304 1104h8v8h-8zM1328 1104h8v8h-8zM1344 1104h8v8h-8zM1000 1112h8v8h-8zM1648 1112h8v8h-8zM432 1120h8v8h-8zM448 1120h8v8h-8zM728 1120h8v8h-8zM960 1120h8v8h-8zM1032 1120h8v8h-8zM1280 1120h8v8h-8zM1320 1120h8v8h-8zM1600 1120h8v8h-8zM1616 1120h8v8h-8zM1648 1120h8v8h-8zM720 1128h8v8h-8zM976 1128h8v8h-8zM1016 1128h8v8h-8zM80 1224h8v8h-8zM1064 1264h8v8h-8zM1072 1264h8v8h-8zM1080 1264h8v8h-8zM1096 1264h8v8h-8zM1256 1264h8v8h-8zM1264 1264h8v8h-8zM1280 1264h8v8h-8zM1296 1264h8v8h-8zM1472 1264h8v8h-8zM1504 1264h8v8h-8zM1680 1264h8v8h-8zM1832 1264h8v8h-8zM1296 1272h8v8h-8zM1696 1272h8v8h-8zM1776 1272h8v8h-8zM1072 1280h8v8h-8zM1104 1280h8v8h-8zM1216 1280h8v8h-8zM1264 1280h8v8h-8zM1280 1280h8v8h-8zM1288 1280h8v8h-8zM1296 1280h8v8h-8zM1304 1280h8v8h-8zM1488 1280h8v8h-8zM1512 1280h8v8h-8zM1520 1280h8v8h-8zM1664 1280h8v8h-8zM1672 1280h8v8h-8zM1688 1280h8v8h-8zM1696 1280h8v8h-8zM1792 1280h8v8h-8zM1824 1280h8v8h-8zM104 1288h8v8h-8z"/>
    <path fill="#f0f0f0" d="M1280 80h8v8h-8zM704 88h8v8h-8zM728 88h8v8h-8zM840 88h8v8h-8zM1016 88h8v8h-8zM1208 88h8v8h-8zM1336 88h8v8h-8zM640 96h8v8h-8zM1376 96h8v8h-8zM904 104h8v8h-8zM1096 104h8v8h-8zM1200 104h8v8h-8zM1328 104h8v8h-8zM600 112h8v8h-8zM640 112h8v8h-8zM904 112h8v8h-8zM1360 112h8v8h-8zM1376 112h8v8h-8zM688 120h8v8h-8zM696 120h8v8h-8zM800 120h8v8h-8zM920 120h8v8h-8zM968 120h8v8h-8zM1400 120h8v8h-8zM1144 152h8v8h-8zM1000 160h8v8h-8zM1128 160h8v8h-8zM1000 168h8v8h-8zM936 176h8v8h-8zM1000 176h8v8h-8zM1080 176h8v8h-8zM832 184h8v8h-8zM856 184h8v8h-8zM920 184h8v8h-8zM984 184h8v8h-8zM1040 184h8v8h-8zM128 392h8v8h-8zM64 600h8v8h-8zM88 640h8v8h-8zM88 664h8v8h-8zM64 696h8v8h-8zM88 736h8v8h-8zM152 936h8v8h-8zM128 944h8v8h-8zM144 952h8v8h-8zM128 960h8v8h-8zM440 1104h8v8h-8zM704 1104h8v8h-8zM960 1104h8v8h-8zM1000 1104h8v8h-8zM1608 1104h8v8h-8zM728 1112h8v8h-8zM968 1112h8v8h-8zM1008 1112h8v8h-8zM392 1120h8v8h-8zM408 1120h8v8h-8zM680 1120h8v8h-8zM1296 1120h8v8h-8zM1336 1120h8v8h-8zM960 1128h8v8h-8zM984 1128h8v8h-8zM992 1128h8v8h-8zM1000 1128h8v8h-8zM1664 1128h8v8h-8zM208 1264h8v8h-8zM1240 1264h8v8h-8zM1432 1264h8v8h-8zM1448 1264h8v8h-8zM1520 1264h8v8h-8zM1696 1264h8v8h-8zM1720 1264h8v8h-8zM1784 1264h8v8h-8zM1800 1264h8v8h-8zM1048 1272h8v8h-8zM1744 1272h8v8h-8zM1768 1272h8v8h-8zM1848 1272h8v8h-8zM1032 1280h8v8h-8zM1056 1280h8v8h-8zM1064 1280h8v8h-8zM1080 1280h8v8h-8zM1096 1280h8v8h-8zM1248 1280h8v8h-8zM1256 1280h8v8h-8zM1416 1280h8v8h-8zM1464 1280h8v8h-8zM1472 1280h8v8h-8zM1496 1280h8v8h-8zM1504 1280h8v8h-8zM1640 1280h8v8h-8zM1656 1280h8v8h-8zM1680 1280h8v8h-8zM1712 1280h8v8h-8zM1720 1280h8v8h-8zM1752 1280h8v8h-8zM1760 1280h8v8h-8zM1784 1280h8v8h-8zM1800 1280h8v8h-8zM1808 1280h8v8h-8zM1816 1280h8v8h-8zM1832 1280h8v8h-8z"/>
    <path fill="#f6f6f6" d="M824 80h8v8h-8zM768 88h8v8h-8zM872 88h8v8h-8zM928 88h8v8h-8zM1232 96h8v8h-8zM776 104h8v8h-8zM1008 104h8v8h-8zM608 120h8v8h-8zM648 120h8v8h-8zM712 120h8v8h-8zM824 120h8v8h-8zM840 120h8v8h-8zM976 120h8v8h-8zM1256 120h8v8h-8zM1272 120h8v8h-8zM1288 120h8v8h-8zM1336 120h8v8h-8zM1128 144h8v8h-8zM864 152h8v8h-8zM888 152h8v8h-8zM1000 152h8v8h-8zM1112 152h8v8h-8zM1096 160h8v8h-8zM1096 168h8v8h-8zM1112 168h8v8h-8zM896 176h8v8h-8zM848 184h8v8h-8zM944 184h8v8h-8zM968 184h8v8h-8zM1000 184h8v8h-8zM1032 184h8v8h-8zM1048 184h8v8h-8zM1104 184h8v8h-8zM1120 184h8v8h-8zM1152 184h8v8h-8zM1160 184h8v8h-8zM1168 184h8v8h-8zM1176 184h8v8h-8zM136 368h8v8h-8zM128 376h8v8h-8zM152 488h8v8h-8zM152 600h8v8h-8zM144 616h8v8h-8zM88 624h8v8h-8zM72 656h8v8h-8zM56 672h8v8h-8zM56 688h8v8h-8zM56 696h8v8h-8zM56 720h8v8h-8zM128 720h8v8h-8zM152 720h8v8h-8zM120 728h8v8h-8zM136 736h8v8h-8zM144 832h8v8h-8zM136 936h8v8h-8zM160 944h8v8h-8zM128 952h8v8h-8zM1648 1104h8v8h-8zM1656 1104h8v8h-8zM384 1112h8v8h-8zM424 1112h8v8h-8zM672 1112h8v8h-8zM696 1112h8v8h-8zM712 1112h8v8h-8zM960 1112h8v8h-8zM1024 1112h8v8h-8zM1272 1112h8v8h-8zM1312 1112h8v8h-8zM1592 1112h8v8h-8zM1632 1112h8v8h-8zM720 1120h8v8h-8zM704 1128h8v8h-8zM1648 1128h8v8h-8zM120 1224h8v8h-8zM120 1232h8v8h-8zM200 1232h8v8h-8zM120 1240h8v8h-8zM120 1248h8v8h-8zM184 1248h8v8h-8zM120 1256h8v8h-8zM120 1264h8v8h-8zM1656 1264h8v8h-8zM1736 1264h8v8h-8zM120 1272h8v8h-8zM168 1272h8v8h-8zM224 1272h8v8h-8zM1088 1272h8v8h-8zM1440 1272h8v8h-8zM1536 1272h8v8h-8zM120 1280h8v8h-8zM1240 1280h8v8h-8zM1448 1280h8v8h-8zM1456 1280h8v8h-8zM1736 1280h8v8h-8zM1768 1280h8v8h-8zM1776 1280h8v8h-8zM120 1288h8v8h-8z"/>
  </g>

  <!-- GRID -->
  <g id="grid" stroke="#d3dcdb" stroke-width="2">
    <line x1="225" y1="387.4" x2="1829" y2="387.4"/>
    <line x1="225" y1="500.6" x2="1829" y2="500.6"/>
    <line x1="225" y1="613.8" x2="1829" y2="613.8"/>
    <line x1="225" y1="727.0" x2="1829" y2="727.0"/>
    <line x1="225" y1="840.2" x2="1829" y2="840.2"/>
    <line x1="225" y1="953.4" x2="1829" y2="953.4"/>
  </g>

  <!-- AXES -->
  <g id="axes">
    <rect x="216.3" y="186" width="6" height="877.8" fill="#dcdcdc"/>
    <rect x="222" y="1056" width="1607" height="5" fill="#d3d3d1"/>
    <rect x="221.8" y="186" width="3.1" height="877.8" fill="#44585e"/>
    <rect x="221.8" y="1060.7" width="1607.2" height="3.1" fill="#44585e"/>
  </g>

  <!-- SERIES -->
  <g id="series" fill="none" stroke-width="9" stroke-linecap="round" stroke-linejoin="miter">
    <polyline stroke="#fa0202" points="359.4,589.9 691.5,471 1015,549.5 1335.6,500.7 1642,547.2"/>
    <polyline stroke="#7efc08" points="359.4,772.4 703.4,658.6 1017,589.9 1337.3,589.9 1631.5,659"/>
    <polyline stroke="#fc8612" points="364.5,783.9 685.6,561.4 1027.8,680.5 1323.7,656 1631.5,681.6"/>
    <polyline stroke="#5cfbe4" points="359.4,625.5 702.5,943 1006.5,800 1323.7,745.7 1641.3,784"/>
  </g>

  <!-- GHOST (re-strided echo of the top of the picture) -->
  <g id="ghost">
    <g clip-path="url(#ce10)"><use href="#ttlsrc" class="ghost" transform="translate(-80,81)"/></g>
    <g clip-path="url(#ce11)"><use href="#ttlsrc" class="ghost" transform="translate(-88,89)"/></g>
    <g clip-path="url(#ce12)"><use href="#ttlsrc" class="ghost" transform="translate(-96,97)"/></g>
    <g clip-path="url(#ce13)"><use href="#ttlsrc" class="ghost" transform="translate(-104,105)"/></g>
    <g clip-path="url(#ce14)"><use href="#ttlsrc" class="ghost" transform="translate(-112,113)"/></g>
    <g clip-path="url(#ce15)"><use href="#ttlsrc" class="ghost" transform="translate(-120,121)"/></g>
    <g clip-path="url(#ce16)"><use href="#ttlsrc" class="ghost" transform="translate(-128,129)"/></g>
    <g clip-path="url(#ce18)"><use href="#ttlsrc" class="ghost" transform="translate(-144,145)"/></g>
    <g clip-path="url(#ce19)"><use href="#ttlsrc" class="ghost" transform="translate(-152,153)"/></g>
    <g clip-path="url(#ce20)"><use href="#ttlsrc" class="ghost" transform="translate(-160,161)"/></g>
    <g clip-path="url(#ce21)"><use href="#ttlsrc" class="ghost" transform="translate(-168,169)"/></g>
    <g clip-path="url(#ce22)"><use href="#ttlsrc" class="ghost" transform="translate(-176,177)"/></g>
    <g clip-path="url(#ce23)"><use href="#ttlsrc" class="ghost" transform="translate(-184,185)"/></g>
    <g clip-path="url(#ce24)"><use href="#ttlsrc" class="ghost" transform="translate(-192,193)"/></g>
    <g clip-path="url(#co9)"><use href="#ttlsrc" class="ghost" transform="translate(-1079,81)"/></g>
    <g clip-path="url(#co10)"><use href="#ttlsrc" class="ghost" transform="translate(-1087,89)"/></g>
    <g clip-path="url(#co11)"><use href="#ttlsrc" class="ghost" transform="translate(-1095,97)"/></g>
    <g clip-path="url(#co12)"><use href="#ttlsrc" class="ghost" transform="translate(-1103,105)"/></g>
    <g clip-path="url(#co13)"><use href="#ttlsrc" class="ghost" transform="translate(-1111,113)"/></g>
    <g clip-path="url(#co14)"><use href="#ttlsrc" class="ghost" transform="translate(-1119,121)"/></g>
    <g clip-path="url(#co15)"><use href="#ttlsrc" class="ghost" transform="translate(-1127,129)"/></g>
    <g clip-path="url(#co16)"><use href="#ttlsrc" class="ghost" transform="translate(-1135,137)"/></g>
    <g clip-path="url(#co17)"><use href="#ttlsrc" class="ghost" transform="translate(-1143,145)"/></g>
    <g clip-path="url(#co18)"><use href="#ttlsrc" class="ghost" transform="translate(-1151,153)"/></g>
    <g clip-path="url(#co19)"><use href="#ttlsrc" class="ghost" transform="translate(-1159,161)"/></g>
    <g clip-path="url(#co20)"><use href="#ttlsrc" class="ghost" transform="translate(-1167,169)"/></g>
    <g clip-path="url(#co21)"><use href="#ttlsrc" class="ghost" transform="translate(-1175,177)"/></g>
    <g clip-path="url(#co22)"><use href="#ttlsrc" class="ghost" transform="translate(-1183,185)"/></g>
    <g clip-path="url(#co23)"><use href="#ttlsrc" class="ghost" transform="translate(-1191,193)"/></g>
    <g clip-path="url(#co24)"><use href="#ttlsrc" class="ghost" transform="translate(-1199,201)"/></g>
    <rect x="953" y="88" width="6.8" height="7.4" fill="rgba(0,0,0,0.10)"/><rect x="960.6" y="88" width="6.6" height="7.4" fill="rgba(0,0,0,0.17)"/>
    <rect x="945" y="104" width="6.8" height="7.4" fill="rgba(0,0,0,0.10)"/><rect x="952.6" y="104" width="6.6" height="7.4" fill="rgba(0,0,0,0.17)"/>
    <rect x="937" y="120" width="6.8" height="7.4" fill="rgba(0,0,0,0.10)"/><rect x="944.6" y="120" width="6.6" height="7.4" fill="rgba(0,0,0,0.17)"/>
    <rect x="929" y="136" width="6.8" height="7.4" fill="rgba(0,0,0,0.10)"/><rect x="936.6" y="136" width="6.6" height="7.4" fill="rgba(0,0,0,0.17)"/>
    <rect x="921" y="152" width="6.8" height="7.4" fill="rgba(0,0,0,0.10)"/><rect x="928.6" y="152" width="6.6" height="7.4" fill="rgba(0,0,0,0.17)"/>
    <rect x="913" y="168" width="6.8" height="7.4" fill="rgba(0,0,0,0.10)"/><rect x="920.6" y="168" width="6.6" height="7.4" fill="rgba(0,0,0,0.17)"/>
    <rect x="905" y="184" width="6.8" height="7.4" fill="rgba(0,0,0,0.10)"/><rect x="912.6" y="184" width="6.6" height="7.4" fill="rgba(0,0,0,0.17)"/>
    <rect x="897" y="200" width="6.8" height="7.4" fill="rgba(0,0,0,0.10)"/><rect x="904.6" y="200" width="6.6" height="7.4" fill="rgba(0,0,0,0.17)"/>
    <rect x="889" y="216" width="6.8" height="7.4" fill="rgba(0,0,0,0.10)"/><rect x="896.6" y="216" width="6.6" height="7.4" fill="rgba(0,0,0,0.17)"/>
    <rect x="881" y="232" width="6.8" height="7.4" fill="rgba(0,0,0,0.10)"/><rect x="888.6" y="232" width="6.6" height="7.4" fill="rgba(0,0,0,0.17)"/>
    <rect x="873" y="248" width="6.8" height="7.4" fill="rgba(0,0,0,0.10)"/><rect x="880.6" y="248" width="6.6" height="7.4" fill="rgba(0,0,0,0.17)"/>
    <rect x="865" y="264" width="6.8" height="7.4" fill="rgba(0,0,0,0.10)"/><rect x="872.6" y="264" width="6.6" height="7.4" fill="rgba(0,0,0,0.17)"/>
    <rect x="857" y="280" width="6.8" height="7.4" fill="rgba(0,0,0,0.10)"/><rect x="864.6" y="280" width="6.6" height="7.4" fill="rgba(0,0,0,0.17)"/>
    <rect x="849" y="296" width="6.8" height="7.4" fill="rgba(0,0,0,0.10)"/><rect x="856.6" y="296" width="6.6" height="7.4" fill="rgba(0,0,0,0.17)"/>
    <rect x="841" y="312" width="6.8" height="7.4" fill="rgba(0,0,0,0.10)"/><rect x="848.6" y="312" width="6.6" height="7.4" fill="rgba(0,0,0,0.17)"/>
    <rect x="833" y="328" width="6.8" height="7.4" fill="rgba(0,0,0,0.10)"/><rect x="840.6" y="328" width="6.6" height="7.4" fill="rgba(0,0,0,0.17)"/>
    <rect x="825" y="344" width="6.8" height="7.4" fill="rgba(0,0,0,0.10)"/><rect x="832.6" y="344" width="6.6" height="7.4" fill="rgba(0,0,0,0.17)"/>
    <rect x="817" y="360" width="6.8" height="7.4" fill="rgba(0,0,0,0.10)"/><rect x="824.6" y="360" width="6.6" height="7.4" fill="rgba(0,0,0,0.17)"/>
    <rect x="809" y="376" width="6.8" height="7.4" fill="rgba(0,0,0,0.10)"/><rect x="816.6" y="376" width="6.6" height="7.4" fill="rgba(0,0,0,0.17)"/>
    <rect x="801" y="392" width="6.8" height="7.4" fill="rgba(0,0,0,0.10)"/><rect x="808.6" y="392" width="6.6" height="7.4" fill="rgba(0,0,0,0.17)"/>
    <rect x="793" y="408" width="6.8" height="7.4" fill="rgba(0,0,0,0.10)"/><rect x="800.6" y="408" width="6.6" height="7.4" fill="rgba(0,0,0,0.17)"/>
    <rect x="785" y="424" width="6.8" height="7.4" fill="rgba(0,0,0,0.10)"/><rect x="792.6" y="424" width="6.6" height="7.4" fill="rgba(0,0,0,0.17)"/>
    <rect x="777" y="440" width="6.8" height="7.4" fill="rgba(0,0,0,0.10)"/><rect x="784.6" y="440" width="6.6" height="7.4" fill="rgba(0,0,0,0.17)"/>
    <rect x="769" y="456" width="6.8" height="7.4" fill="rgba(0,0,0,0.10)"/><rect x="776.6" y="456" width="6.6" height="7.4" fill="rgba(0,0,0,0.17)"/>
    <rect x="761" y="472" width="6.8" height="7.4" fill="rgba(0,0,0,0.10)"/><rect x="768.6" y="472" width="6.6" height="7.4" fill="rgba(0,0,0,0.17)"/>
    <rect x="753" y="488" width="6.8" height="7.4" fill="rgba(0,0,0,0.10)"/><rect x="760.6" y="488" width="6.6" height="7.4" fill="rgba(0,0,0,0.17)"/>
    <rect x="745" y="504" width="6.8" height="7.4" fill="rgba(0,0,0,0.10)"/><rect x="752.6" y="504" width="6.6" height="7.4" fill="rgba(0,0,0,0.17)"/>
    <rect x="737" y="520" width="6.8" height="7.4" fill="rgba(0,0,0,0.10)"/><rect x="744.6" y="520" width="6.6" height="7.4" fill="rgba(0,0,0,0.17)"/>
    <rect x="729" y="536" width="6.8" height="7.4" fill="rgba(0,0,0,0.10)"/><rect x="736.6" y="536" width="6.6" height="7.4" fill="rgba(0,0,0,0.17)"/>
    <rect x="721" y="552" width="6.8" height="7.4" fill="rgba(0,0,0,0.10)"/><rect x="728.6" y="552" width="6.6" height="7.4" fill="rgba(0,0,0,0.17)"/>
    <rect x="713" y="568" width="6.8" height="7.4" fill="rgba(0,0,0,0.10)"/><rect x="720.6" y="568" width="6.6" height="7.4" fill="rgba(0,0,0,0.17)"/>
    <rect x="705" y="584" width="6.8" height="7.4" fill="rgba(0,0,0,0.10)"/><rect x="712.6" y="584" width="6.6" height="7.4" fill="rgba(0,0,0,0.17)"/>
    <rect x="697" y="600" width="6.8" height="7.4" fill="rgba(0,0,0,0.10)"/><rect x="704.6" y="600" width="6.6" height="7.4" fill="rgba(0,0,0,0.17)"/>
    <rect x="689" y="616" width="6.8" height="7.4" fill="rgba(0,0,0,0.10)"/><rect x="696.6" y="616" width="6.6" height="7.4" fill="rgba(0,0,0,0.17)"/>
    <rect x="681" y="632" width="6.8" height="7.4" fill="rgba(0,0,0,0.10)"/><rect x="688.6" y="632" width="6.6" height="7.4" fill="rgba(0,0,0,0.17)"/>
    <rect x="673" y="648" width="6.8" height="7.4" fill="rgba(0,0,0,0.10)"/><rect x="680.6" y="648" width="6.6" height="7.4" fill="rgba(0,0,0,0.17)"/>
    <rect x="665" y="664" width="6.8" height="7.4" fill="rgba(0,0,0,0.10)"/><rect x="672.6" y="664" width="6.6" height="7.4" fill="rgba(0,0,0,0.17)"/>
    <rect x="657" y="680" width="6.8" height="7.4" fill="rgba(0,0,0,0.10)"/><rect x="664.6" y="680" width="6.6" height="7.4" fill="rgba(0,0,0,0.17)"/>
    <rect x="38" y="371" width="3" height="5" fill="rgba(0,0,0,0.48)"/>
    <rect x="30" y="384" width="3" height="8" fill="rgba(0,0,0,0.48)"/>
    <rect x="22" y="400" width="3" height="8" fill="rgba(0,0,0,0.48)"/>
    <rect x="14" y="416" width="3" height="8" fill="rgba(0,0,0,0.48)"/>
    <rect x="6" y="432" width="3" height="8" fill="rgba(0,0,0,0.48)"/>
    <rect x="0" y="448" width="1.2" height="8" fill="rgba(0,0,0,0.6)"/>
    <rect x="1006" y="440" width="3" height="8" fill="rgba(0,0,0,0.48)"/>
    <rect x="998" y="456" width="3" height="8" fill="rgba(0,0,0,0.48)"/>
    <rect x="990" y="472" width="3" height="8" fill="rgba(0,0,0,0.48)"/>
    <rect x="982" y="488" width="3" height="8" fill="rgba(0,0,0,0.48)"/>
    <rect x="974" y="504" width="3" height="8" fill="rgba(0,0,0,0.48)"/>
    <rect x="966" y="520" width="3" height="8" fill="rgba(0,0,0,0.48)"/>
    <rect x="958" y="536" width="3" height="8" fill="rgba(0,0,0,0.48)"/>
    <rect x="950" y="552" width="3" height="8" fill="rgba(0,0,0,0.48)"/>
    <rect x="942" y="568" width="3" height="8" fill="rgba(0,0,0,0.48)"/>
    <rect x="934" y="584" width="3" height="8" fill="rgba(0,0,0,0.48)"/>
    <rect x="926" y="600" width="3" height="8" fill="rgba(0,0,0,0.48)"/>
    <rect x="918" y="616" width="3" height="8" fill="rgba(0,0,0,0.48)"/>
    <rect x="910" y="632" width="3" height="8" fill="rgba(0,0,0,0.48)"/>
    <rect x="902" y="648" width="3" height="8" fill="rgba(0,0,0,0.48)"/>
    <rect x="894" y="664" width="3" height="8" fill="rgba(0,0,0,0.48)"/>
    <rect x="886" y="680" width="3" height="8" fill="rgba(0,0,0,0.48)"/>
    <g clip-path="url(#ao0)"><use href="#arcsrc" stroke="rgba(0,0,0,0.30)" stroke-width="5.5" transform="translate(-1008,6)"/></g>
    <g clip-path="url(#ao1)"><use href="#arcsrc" stroke="rgba(0,0,0,0.30)" stroke-width="5.5" transform="translate(-1016,14)"/></g>
    <g clip-path="url(#ao2)"><use href="#arcsrc" stroke="rgba(0,0,0,0.30)" stroke-width="5.5" transform="translate(-1024,22)"/></g>
    <g clip-path="url(#ao3)"><use href="#arcsrc" stroke="rgba(0,0,0,0.30)" stroke-width="5.5" transform="translate(-1032,30)"/></g>
    <g clip-path="url(#ao4)"><use href="#arcsrc" stroke="rgba(0,0,0,0.30)" stroke-width="5.5" transform="translate(-1040,38)"/></g>
    <g clip-path="url(#ao5)"><use href="#arcsrc" stroke="rgba(0,0,0,0.30)" stroke-width="5.5" transform="translate(-1048,46)"/></g>
    <g clip-path="url(#ao6)"><use href="#arcsrc" stroke="rgba(0,0,0,0.30)" stroke-width="5.5" transform="translate(-1056,54)"/></g>
    <g clip-path="url(#aw1)"><use href="#arcsrc" stroke="rgba(0,0,0,0.30)" stroke-width="5.5" transform="translate(992,14)"/></g>
    <g clip-path="url(#aw2)"><use href="#arcsrc" stroke="rgba(0,0,0,0.30)" stroke-width="5.5" transform="translate(984,22)"/></g>
    <g clip-path="url(#aw3)"><use href="#arcsrc" stroke="rgba(0,0,0,0.30)" stroke-width="5.5" transform="translate(976,30)"/></g>
    <g clip-path="url(#aw4)"><use href="#arcsrc" stroke="rgba(0,0,0,0.30)" stroke-width="5.5" transform="translate(968,38)"/></g>
    <g clip-path="url(#aw5)"><use href="#arcsrc" stroke="rgba(0,0,0,0.30)" stroke-width="5.5" transform="translate(960,46)"/></g>
  </g>

  <!-- TITLE -->
  <use href="#ttlsrc" fill="#2b3d43"/>

  <!-- Y TICKS -->
  <g id="yticks" class="tick">
    <text x="131" y="397.6" textLength="38.5" lengthAdjust="spacingAndGlyphs">10</text>
    <text x="135" y="511.6" textLength="22" lengthAdjust="spacingAndGlyphs">5</text>
    <text x="134" y="627.4" textLength="24" lengthAdjust="spacingAndGlyphs">0</text>
    <text x="124.5" y="737.6" textLength="31" lengthAdjust="spacingAndGlyphs">-5</text>
    <text x="122.5" y="848.3" textLength="47" lengthAdjust="spacingAndGlyphs">-10</text>
    <text x="120.5" y="965.8" textLength="44" lengthAdjust="spacingAndGlyphs">-15</text>
  </g>

  <!-- X TICKS -->
  <g id="xticks" class="tick">
    <text x="381" y="1129.8" textLength="82" lengthAdjust="spacingAndGlyphs">2020</text>
    <text x="670.5" y="1129.8" textLength="75" lengthAdjust="spacingAndGlyphs">2021</text>
    <text x="962.5" y="1129.8" textLength="80" lengthAdjust="spacingAndGlyphs">2022</text>
    <text x="1270" y="1129.8" textLength="80" lengthAdjust="spacingAndGlyphs">2023</text>
    <text x="1589.5" y="1129.8" textLength="84" lengthAdjust="spacingAndGlyphs">2024</text>
  </g>

  <!-- Y LABEL -->
  <text id="ylabel" transform="translate(91.3,741) rotate(-90)" style="font-size:48.5px;font-weight:bold;fill:#2b3d43" textLength="139" lengthAdjust="spacingAndGlyphs">Média</text>

  <!-- LEGEND -->
  <g id="legend">
    <rect x="984.2" y="1251.8" width="41.7" height="41.8" fill="#fa0202"/>
    <rect x="1158.6" y="1251.8" width="42.2" height="41.8" fill="#7efc08"/>
    <rect x="1362.2" y="1251.8" width="42.2" height="41.8" fill="#fc8612"/>
    <rect x="1589.4" y="1251.8" width="42.4" height="41.8" fill="#5cfbe4"/>
    <g class="leg">
      <text x="1033.5" y="1282.5" textLength="79.5" lengthAdjust="spacingAndGlyphs">Preço</text>
      <text x="1210.5" y="1282.5" textLength="102.5" lengthAdjust="spacingAndGlyphs">Vendas</text>
      <text x="1414" y="1282.5" textLength="125" lengthAdjust="spacingAndGlyphs">Compras</text>
      <text x="1642.5" y="1282.5" textLength="208" lengthAdjust="spacingAndGlyphs">Abastecimento</text>
    </g>
  </g>

  <!-- LOGO -->
  <g id="logo" fill="#263338">
    <path d="M66.4 1230 H84 L93.4 1270 L103.8 1230 H121 L104.2 1295.3 H83.4 Z"/>
    <rect x="127.5" y="1230" width="16.4" height="65.3"/>
    <path d="M152.2 1230 H197.6 V1244.6 H168.3 V1254.6 H186.6 V1269.8 H168.3 V1280.2 H197.7 V1295.4 H152.2 Z"/>
    <path d="M243.6 1252.8 C243.6 1241.5 237.5 1237.6 228 1237.6 C218 1237.6 211.4 1241.5 211.4 1249 C211.4 1257 218 1259.3 228 1262 C238.5 1264.8 244.7 1268 244.7 1276.6 C244.7 1284.6 238.5 1288 228 1288 C217 1288 210.8 1283.4 210.8 1272.4" fill="none" stroke="#263338" stroke-width="16.4"/>
  </g>
</svg>
</body>
</html>
